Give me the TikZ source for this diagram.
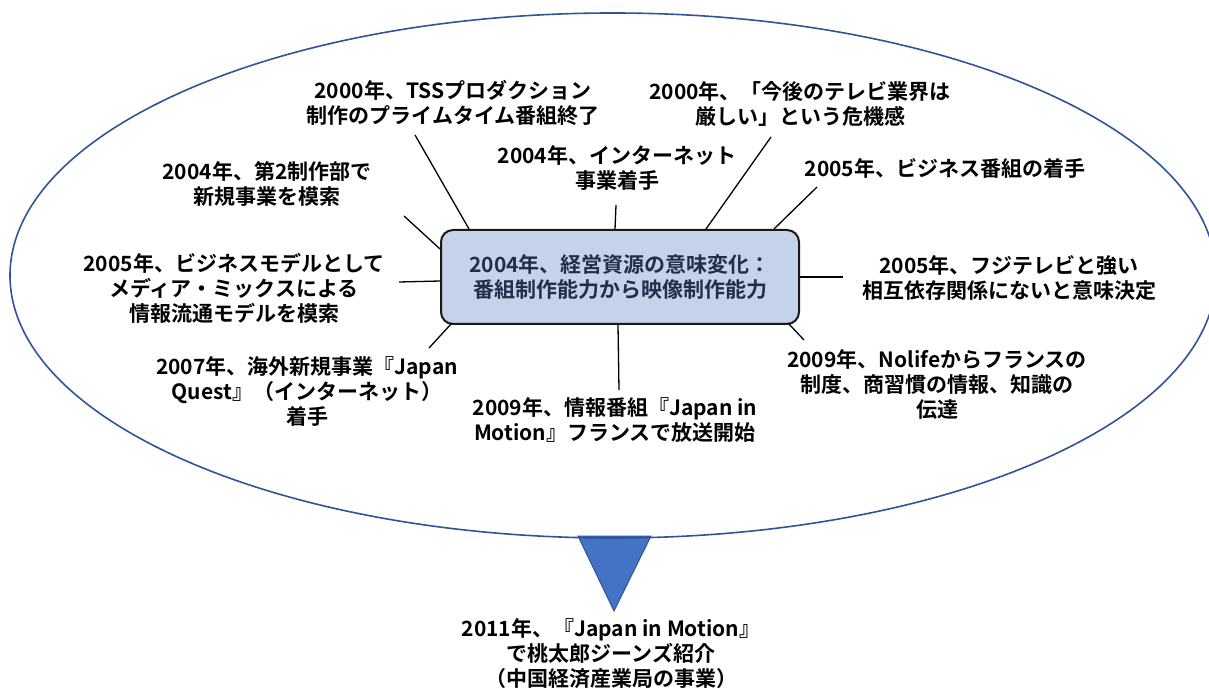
\documentclass[tikz,border=0pt]{standalone}
\usepackage{fontspec}
\setmainfont{Noto Sans CJK JP}[BoldFont={Noto Sans CJK JP Bold}]
\usetikzlibrary{calc}
\definecolor{ellblue}{RGB}{47,85,151}
\definecolor{boxfill}{RGB}{197,211,234}
\definecolor{boxtext}{RGB}{34,46,74}
\definecolor{triblue}{RGB}{68,114,196}
\tikzset{
  lbl/.style={align=center,font=\fontsize{10.5}{12.5}\selectfont\bfseries,text=black,inner sep=0pt},
  conn/.style={draw=black,line width=0.65pt},
  centerbox/.style={draw=black!90,line width=1pt,fill=boxfill,rounded corners=6pt,
    minimum width=179pt,minimum height=47pt,align=center,
    font=\fontsize{10.5}{12.2}\selectfont\bfseries,text=boxtext,inner sep=0pt}
}
\begin{document}
\begin{tikzpicture}[x=0.5pt,y=-0.5pt]
\useasboundingbox (0,0) rectangle (1209,689);
% triangle
\filldraw[fill=triblue,draw=ellblue,line width=0.5pt] (578,536) -- (651,536) -- (614,611) -- cycle;
% ellipse
\draw[ellblue,line width=0.8pt] (613,275.5) ellipse [x radius=603,y radius=262.5];
% central box
\node[centerbox] (box) at (620,277) {2004年、経営資源の意味変化：\\番組制作能力から映像制作能力};
% labels
\node[lbl] (A) at (453,103) {2000年、TSSプロダクション\\制作のプライムタイム番組終了};
\node[lbl] (B) at (617,168) {2004年、インターネット\\事業着手};
\node[lbl] (C) at (800,104) {2000年、「今後のテレビ業界は\\厳しい」という危機感};
\node[lbl] (D) at (945,168) {2005年、ビジネス番組の着手};
\node[lbl] (E) at (267,184) {2004年、第2制作部で\\新規事業を模索};
\node[lbl] (F) at (234,288) {2005年、ビジネスモデルとして\\メディア・ミックスによる\\情報流通モデルを模索};
\node[lbl] (G) at (1009,278) {2005年、フジテレビと強い\\相互依存関係にないと意味決定};
\node[lbl] (H) at (307,391) {2007年、海外新規事業『Japan\\Quest』（インターネット）\\着手};
\node[lbl] (I) at (615,420) {2009年、情報番組『Japan in\\Motion』フランスで放送開始};
\node[lbl] (J) at (937,384) {2009年、Nolifeからフランスの\\制度、商習慣の情報、知識の\\伝達};
\node[lbl] (K) at (611,654) {2011年、『Japan in Motion』\\で桃太郎ジーンズ紹介\\（中国経済産業局の事業）};
% connector free ends
\coordinate (cA) at (415,135);
\coordinate (cB) at (616,205);
\coordinate (cC) at (771,137);
\coordinate (cD) at (817,187);
\coordinate (cE) at (404,216);
\coordinate (cF) at (399,282);
\coordinate (cG) at (843,277);
\coordinate (cH) at (429,348);
\coordinate (cI) at (619,390);
\coordinate (cJ) at (804,340);
% connectors
\draw[conn] (cA) -- ($(box.north west)+(29,0)$);
\draw[conn] (cB) -- ($(box.north west)+(175,0)$);
\draw[conn] (cC) -- ($(box.north west)+(266,0)$);
\draw[conn] (cD) -- ($(box.north west)+(334,0)$);
\draw[conn] (cE) -- ($(box.north west)+(0,20)$);
\draw[conn] (cF) -- ($(box.north west)+(0,52)$);
\draw[conn] (cG) -- (box.east);
\draw[conn] (cH) -- ($(box.south west)+(12,-2)$);
\draw[conn] (cI) -- ($(box.south west)+(178,0)$);
\draw[conn] (cJ) -- ($(box.south east)+(-12,-2)$);
\end{tikzpicture}
\end{document}
